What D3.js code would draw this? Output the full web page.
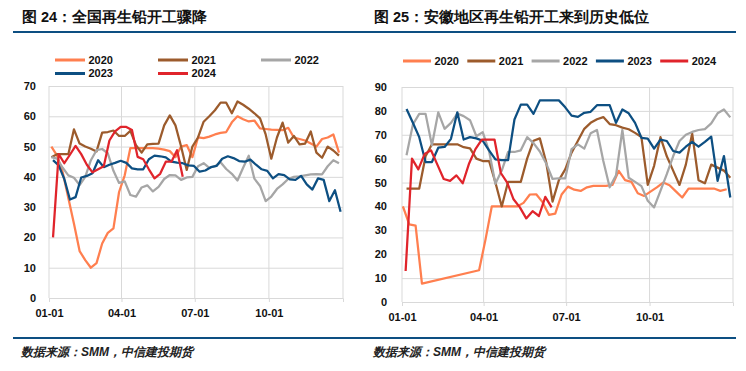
<!DOCTYPE html>
<html>
<head>
<meta charset="utf-8">
<script src="https://cdn.jsdelivr.net/npm/d3@7"></script>
<style>
  body { margin: 0; background: #fff; }
  text { font-family: "Liberation Sans", Arial, sans-serif; }
</style>
</head>
<body>
<svg id="chart" width="746" height="371"></svg>
<script>
// ---- data ----
const years = ["2020", "2021", "2022", "2023", "2024"];
const colors = ["#ff7f4f", "#9c5b2c", "#a6a6a6", "#0d4f82", "#e0242b"];

// national secondary lead operating rate (%), weekly
const natStarts = ["01-04", "01-04", "01-04", "01-06", "01-06"];
const nat2020 = [50,47,41.5,33,24.5,15.5,12.5,10,11.5,18,21.5,23,35,40.5,49.5,49.5,49.5,49.5,49.5,49.3,49,48.5,46.5,50,50.5,46.5,53,52.8,53.3,54,54.5,54.8,58,60,59,58.3,58.6,56,55.8,55.6,55.5,55.4,56.2,53,52.5,52,51,50,52.5,53,54,48];
const nat2021 = [46.5,47.5,47.5,47.5,55.7,51,50,49.3,48.4,54.6,54.8,55.3,53.5,53.5,55.2,50.5,48,50.7,50.9,51,57,60.3,57,50,42.3,50,53,58.2,60,62,64.5,64.5,61,64.9,63.8,62.5,61,59.3,54,46,53,57.9,51.3,53.5,50.7,51,55,48,46.3,50,48.7,47];
const nat2022 = [46.5,46,43,40.5,39.7,37.3,40,45.5,48.8,49.2,47.8,42,38,38.5,34,33.5,36.5,37.2,35.2,36.7,39.3,40.6,40.5,39,39.8,40,43.5,44.5,43,43.5,44.8,42.6,41,38.8,43,47,39.4,37,32,33.5,36,37.5,39.3,40,40.2,40.5,40.8,40.9,40.8,43.5,45.5,44.5];
const nat2023 = [45.5,43.8,39.3,32.5,33.3,39.8,40.3,41.2,45.5,43.2,44,44.6,45.3,44.6,42.8,42.5,42.5,45.8,47,46.8,46.4,45,44.7,44.5,43.8,43.6,41.7,42.1,43.2,43.6,46,46.8,46.2,45.2,45,45.7,44,42.5,42,39.5,40.9,40.6,39.2,39,40.3,37.5,35.8,39.5,39,32,35.6,28.5];
const nat2024 = [20,47.5,44.5,47.3,50.2,47.5,44,41.5,42.5,43.5,52,55,56.5,56.5,55.5,46.6,45.8,42.5,39.5,41,45,45,48.8,40];

// Anhui secondary lead operating rate (%), weekly; null = no report
const ahStarts = ["01-02", "01-06", "01-06", "01-06", "01-05"];
const ah2020 = [40,32.5,32,7.7,null,null,null,null,null,null,null,null,13.3,26,40,40,40,40,40,41.5,45,45.1,41.8,36.5,37,45,48.3,47,46.5,48,48.6,48.6,48.6,49,54.9,51,50.3,45.5,44.4,46.2,48,50,48.9,46.3,43.75,47.5,47.5,47.5,47.5,47.5,46.5,47.2];
const ah2021 = [47.5,47.5,47.5,61,66,66,66,66,66,64.8,64.3,60,59,59,50,40,50.3,50.3,50.3,60,67.5,68.5,58.5,42,51,55.5,62.5,67.5,72.5,75,76.5,77.4,74.5,74,73,72.3,70.8,69,49,57,69,61,55,49,57.5,70.5,51,49.7,57.5,56.25,55,52];
const ah2022 = [61.4,74.3,78.75,78.75,65.6,79.4,72.5,75,78.9,77.8,76.1,69.4,71.1,63.2,49.5,55,62.8,62.8,63.5,69,66.5,63,58,51.5,51.8,51.8,64,66,64.2,70.6,72,59,48,53,72,52,50.3,48.5,42.4,39.6,46.5,53.5,61,67.4,70,71.2,72,72.4,74.8,79,80.6,77.3];
const ah2023 = [80.8,75,69,58.6,58.6,64.6,64.9,68.3,79.4,68,69,68.5,67.5,63.5,59.7,59.4,59.4,76.4,82.6,82.6,78.75,84.4,84.4,84.4,84.4,81.5,78,77.5,79.2,79.6,82.4,82.4,82.4,75,80.6,79,75,68.75,68.4,64.2,68,67.4,63.2,62.5,65,67,65,67,69.2,50.7,61.1,43.75];
const ah2024 = [13,60,55.5,62,63.5,57.5,51.5,50.7,53,49.7,58,64,68,68,68,54,50,43,39.6,35,38,36,44,39.6];

const xLabels = ["01-01", "04-01", "07-01", "10-01"];
const natYTicks = [0, 10, 20, 30, 40, 50, 60, 70];
const ahYTicks = [0, 10, 20, 30, 40, 50, 60, 70, 80, 90];

const titles = ["图 24：全国再生铅开工骤降", "图 25：安徽地区再生铅开工来到历史低位"];
const source = "数据来源：SMM，中信建投期货";

// ---- drawing ----
const svg = d3.select("#chart");
const parseMD = d3.timeParse("%Y-%m-%d");
const baseYear = 2023;
const gridCol = "#d9d9d9";

// header & footer rules
svg.append("line").attr("x1", 13).attr("x2", 736).attr("y1", 32).attr("y2", 32)
  .attr("stroke", "#0d4f82").attr("stroke-width", 2);
svg.append("line").attr("x1", 13).attr("x2", 736).attr("y1", 338).attr("y2", 338)
  .attr("stroke", "#0d4f82").attr("stroke-width", 2);

function toPoints(values, start) {
  const d0 = parseMD(baseYear + "-" + start);
  return values
    .map((v, i) => ({ date: d3.timeDay.offset(d0, 7 * i), v: v }))
    .filter(d => d.v != null); // empty weeks are bridged, as in the source chart
}

function drawPanel(cfg) {
  const g = svg.append("g");

  // title + source
  g.append("text")
    .attr("x", cfg.titleX).attr("y", 22)
    .attr("font-family", "'Noto Sans CJK SC', sans-serif")
    .attr("font-size", "14.5px").attr("font-weight", "bold")
    .attr("fill", "#111")
    .text(cfg.title);
  g.append("text")
    .attr("x", cfg.titleX - 1).attr("y", 356)
    .attr("font-family", "'Liberation Serif', 'Noto Sans CJK SC', serif")
    .attr("font-size", "12px").attr("font-style", "italic").attr("font-weight", "bold")
    .attr("fill", "#222")
    .text(source);

  const x = d3.scaleTime()
    .domain([new Date(baseYear, 0, 1), new Date(baseYear + 1, 0, 1)])
    .range([cfg.x0, cfg.x1]);
  const y = d3.scaleLinear()
    .domain([0, d3.max(cfg.yTicks)])
    .range([cfg.yb, cfg.yt]);

  // horizontal grid + y labels
  const yAxis = g.append("g")
    .attr("transform", "translate(" + cfg.x0 + ",0)")
    .call(d3.axisLeft(y).tickValues(cfg.yTicks).tickSize(-(cfg.x1 - cfg.x0)).tickPadding(cfg.yPad));
  yAxis.select(".domain").remove();
  yAxis.selectAll("line").attr("stroke", gridCol);

  // vertical grid every quarter
  const qDates = d3.timeMonth.every(3).range(new Date(baseYear, 0, 1), new Date(baseYear + 1, 0, 2));
  g.selectAll(".vgrid")
    .data(qDates)
    .enter()
    .append("line")
      .attr("class", "vgrid")
      .attr("x1", d => x(d)).attr("x2", d => x(d))
      .attr("y1", cfg.yt).attr("y2", cfg.yb)
      .attr("stroke", gridCol);

  // x axis
  const xAxis = g.append("g")
    .attr("transform", "translate(0," + cfg.yb + ")")
    .call(d3.axisBottom(x)
      .tickValues(xLabels.map(s => parseMD(baseYear + "-" + s)))
      .tickFormat(d3.timeFormat("%m-%d"))
      .tickSize(4).tickPadding(7));
  xAxis.select(".domain").attr("stroke", gridCol);
  xAxis.selectAll("line").attr("stroke", gridCol);

  g.selectAll(".tick text")
    .attr("font-family", "'Liberation Sans', Arial, sans-serif")
    .attr("font-size", "11px").attr("font-weight", "bold")
    .attr("fill", "#111");

  // series
  const line = d3.line()
    .x(d => x(d.date))
    .y(d => y(d.v));

  cfg.series.forEach((vals, i) => {
    g.append("path")
      .datum(toPoints(vals, cfg.starts[i]))
      .attr("fill", "none")
      .attr("stroke", colors[i])
      .attr("stroke-width", 2.25)
      .attr("stroke-linejoin", "round")
      .attr("d", line);
  });

  // legend
  const leg = g.selectAll(".leg")
    .data(years)
    .enter()
    .append("g")
      .attr("class", "leg")
      .attr("transform", (d, i) => "translate(" + (cfg.legX + (i % cfg.legCols) * cfg.legDx) + "," + (cfg.legY + Math.floor(i / cfg.legCols) * 13.5) + ")");
  leg.append("line")
    .attr("x1", 0).attr("x2", cfg.legLen)
    .attr("stroke", (d, i) => colors[i])
    .attr("stroke-width", 3);
  leg.append("text")
    .attr("x", cfg.legLen + 3.5)
    .attr("dy", "0.36em")
    .attr("font-size", "11px").attr("font-weight", "bold")
    .attr("fill", "#111")
    .text(d => d);
}

drawPanel({
  title: titles[0], titleX: 22,
  x0: 49, x1: 343, yt: 86, yb: 298, yPad: 13,
  yTicks: natYTicks,
  starts: natStarts,
  series: [nat2020, nat2021, nat2022, nat2023, nat2024],
  legX: 55, legY: 60, legCols: 3, legDx: 103, legLen: 30
});

drawPanel({
  title: titles[1], titleX: 374,
  x0: 402, x1: 733, yt: 87, yb: 302, yPad: 15,
  yTicks: ahYTicks,
  starts: ahStarts,
  series: [ah2020, ah2021, ah2022, ah2023, ah2024],
  legX: 403, legY: 61, legCols: 5, legDx: 64.3, legLen: 28
});
</script>
</body>
</html>
